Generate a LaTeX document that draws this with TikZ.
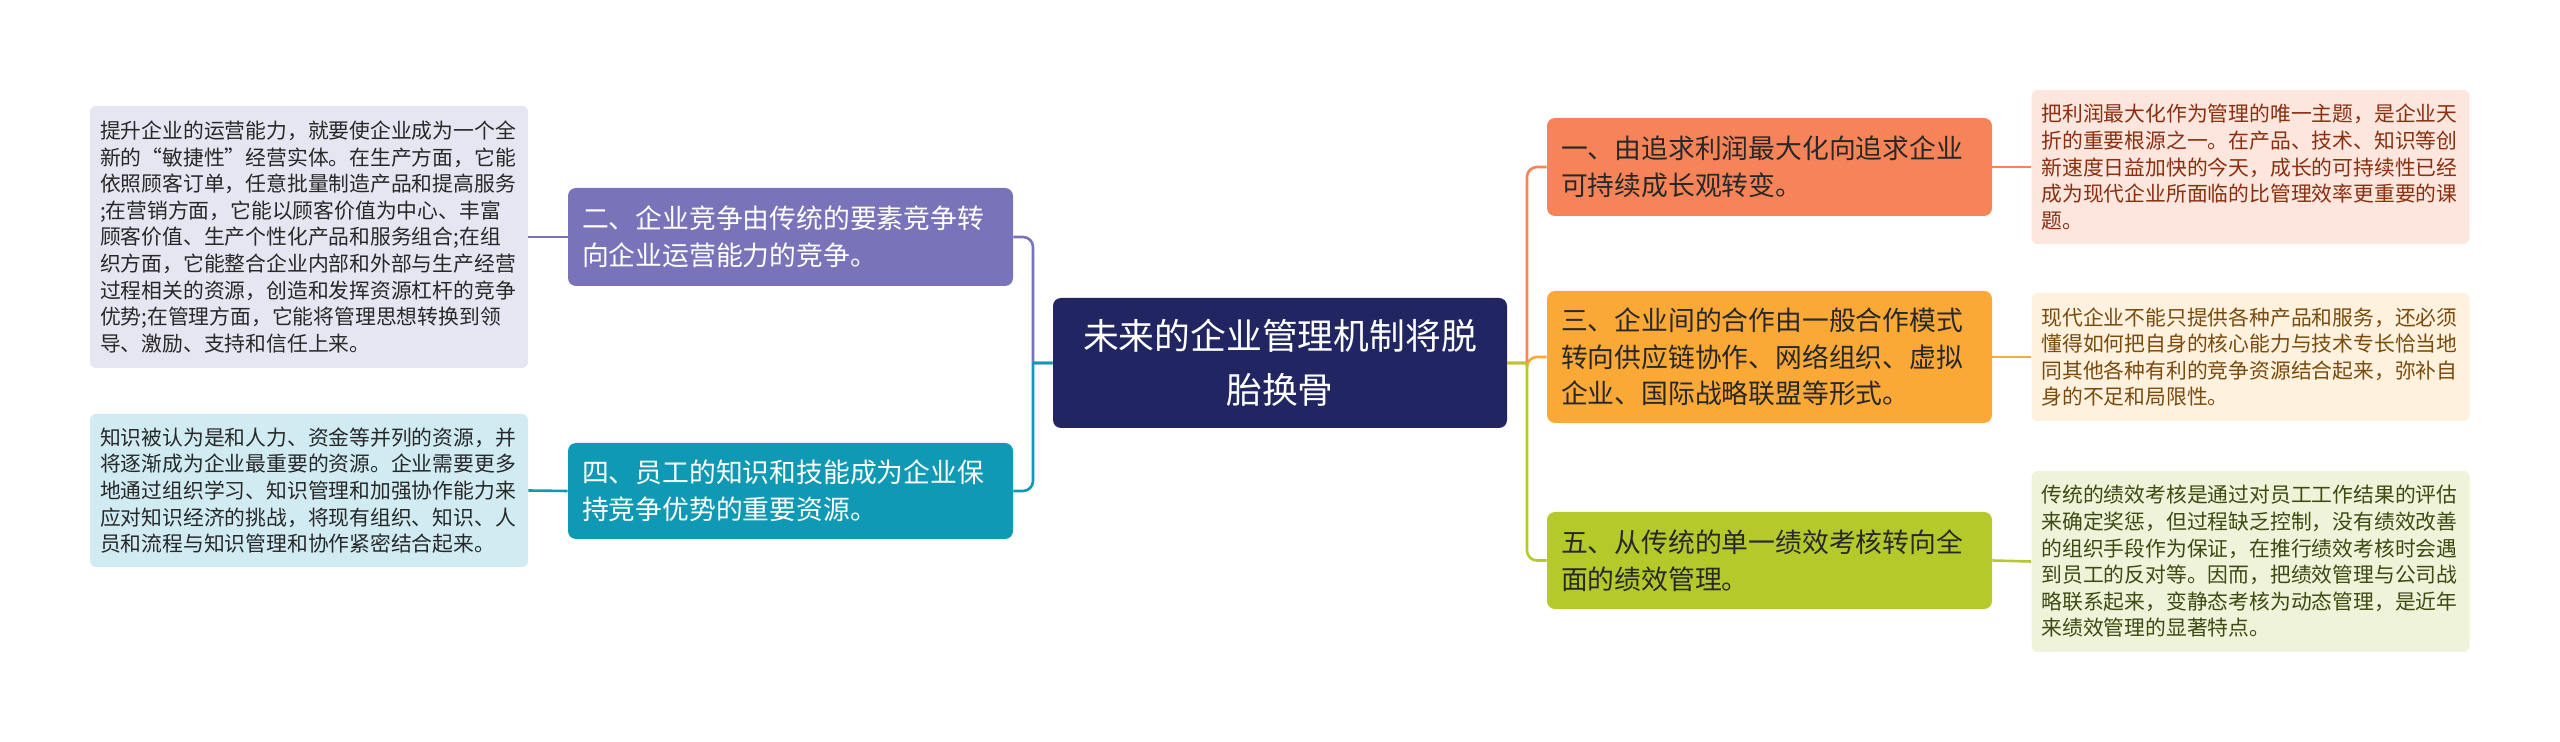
\documentclass[tikz,border=0pt]{standalone}
\usepackage{fontspec}
\usepackage{tikz}
\newfontfamily\cjkfont{Noto Sans CJK SC}
\definecolor{cNavy}{RGB}{33,38,99}
\definecolor{cPurple}{RGB}{121,116,185}
\definecolor{cTeal}{RGB}{16,153,180}
\definecolor{cCoral}{RGB}{247,132,88}
\definecolor{cAmber}{RGB}{250,169,55}
\definecolor{cLime}{RGB}{182,201,42}
\definecolor{cPurpleL}{RGB}{230,230,242}
\definecolor{cTealL}{RGB}{208,235,242}
\definecolor{cCoralL}{RGB}{252,230,222}
\definecolor{cAmberL}{RGB}{254,241,222}
\definecolor{cLimeL}{RGB}{239,243,218}
\definecolor{cInk}{RGB}{40,40,40}
\tikzset{
	topic/.style  ={rectangle, rounded corners=4pt, fill=cNavy, text=white, align=center, minimum width=227pt, minimum height=65pt, font=\cjkfont\fontsize{17.9}{26.8}\selectfont},
	mainbox/.style={rectangle, rounded corners=4pt, inner xsep=7pt, text width=208.5pt, align=left, minimum height=49pt, font=\cjkfont\fontsize{13.4}{18.3}\selectfont},
	leafbox/.style={rectangle, rounded corners=3pt, inner xsep=5pt, text width=209pt, align=left, font=\cjkfont\fontsize{10.4}{13.3}\selectfont},
	branch/.style ={line width=1.3pt, rounded corners=5pt},
}
\begin{document}
\begin{tikzpicture}[x=0.5pt, y=-0.5pt]
	\useasboundingbox (0,0) rectangle (2560,742);
	% centre topic
	\node[topic] (root) at (1280,363) {未来的企业管理机制将脱\\胎换骨};
	\coordinate (jL) at (1033,363);
	\coordinate (jR) at (1527,363);
	% left branches
	\node[mainbox, fill=cPurple, text=white] (n2) at (790.5,237) {二、企业竞争由传统的要素竞争转\\向企业运营能力的竞争。};
	\node[mainbox, fill=cTeal, text=white, minimum height=48pt] (n4) at (790.5,491) {四、员工的知识和技能成为企业保\\持竞争优势的重要资源。};
	\node[leafbox, fill=cPurpleL, text=cInk, minimum height=131pt] (l2) at (309,237) {提升企业的运营能力，就要使企业成为一个全\\新的“敏捷性”经营实体。在生产方面，它能\\依照顾客订单，任意批量制造产品和提高服务\\;在营销方面，它能以顾客价值为中心、丰富\\顾客价值、生产个性化产品和服务组合;在组\\织方面，它能整合企业内部和外部与生产经营\\过程相关的资源，创造和发挥资源杠杆的竞争\\优势;在管理方面，它能将管理思想转换到领\\导、激励、支持和信任上来。};
	\node[leafbox, fill=cTealL, text=cInk, minimum height=76.5pt] (l4) at (309,490.5) {知识被认为是和人力、资金等并列的资源，并\\将逐渐成为企业最重要的资源。企业需要更多\\地通过组织学习、知识管理和加强协作能力来\\应对知识经济的挑战，将现有组织、知识、人\\员和流程与知识管理和协作紧密结合起来。};
	% right branches
	\node[mainbox, fill=cCoral, text=cInk] (n1) at (1769.5,167) {一、由追求利润最大化向追求企业\\可持续成长观转变。};
	\node[mainbox, fill=cAmber, text=cInk, minimum height=66pt] (n3) at (1769.5,357) {三、企业间的合作由一般合作模式\\转向供应链协作、网络组织、虚拟\\企业、国际战略联盟等形式。};
	\node[mainbox, fill=cLime, text=cInk, minimum height=48.5pt] (n5) at (1769.5,560.5) {五、从传统的单一绩效考核转向全\\面的绩效管理。};
	\node[leafbox, fill=cCoralL, text={rgb,255:red,138;green,47;blue,16}, minimum height=77pt] (l1) at (2250.5,167) {把利润最大化作为管理的唯一主题，是企业天\\折的重要根源之一。在产品、技术、知识等创\\新速度日益加快的今天，成长的可持续性已经\\成为现代企业所面临的比管理效率更重要的课\\题。};
	\node[leafbox, fill=cAmberL, text={rgb,255:red,122;green,75;blue,14}, minimum height=64pt] (l3) at (2250.5,357) {现代企业不能只提供各种产品和服务，还必须\\懂得如何把自身的核心能力与技术专长恰当地\\同其他各种有利的竞争资源结合起来，弥补自\\身的不足和局限性。};
	\node[leafbox, fill=cLimeL, text={rgb,255:red,61;green,74;blue,18}, minimum height=90.5pt] (l5) at (2250.5,561.5) {传统的绩效考核是通过对员工工作结果的评估\\来确定奖惩，但过程缺乏控制，没有绩效改善\\的组织手段作为保证，在推行绩效考核时会遇\\到员工的反对等。因而，把绩效管理与公司战\\略联系起来，变静态考核为动态管理，是近年\\来绩效管理的显著特点。};
	% connectors
	\draw[branch, cPurple] (root.west) -- (jL) (jL) |- (n2.east);
	\draw[branch, cTeal] (root.west) -- (jL) (jL) |- (n4.east);
	\draw[branch, cCoral] (root.east) -- (jR) (jR) |- (n1.west);
	\draw[branch, cAmber] (jR) |- (n3.west);
	\draw[branch, cLime] (root.east) -- (jR) (jR) |- (n5.west);
	\draw[branch, cPurple] (n2.west) -- (l2.east);
	\draw[branch, cTeal] (n4.west) -- (l4.east);
	\draw[branch, cCoral] (n1.east) -- (l1.west);
	\draw[branch, cAmber] (n3.east) -- (l3.west);
	\draw[branch, cLime] (n5.east) -- (l5.west);
\end{tikzpicture}
\end{document}
